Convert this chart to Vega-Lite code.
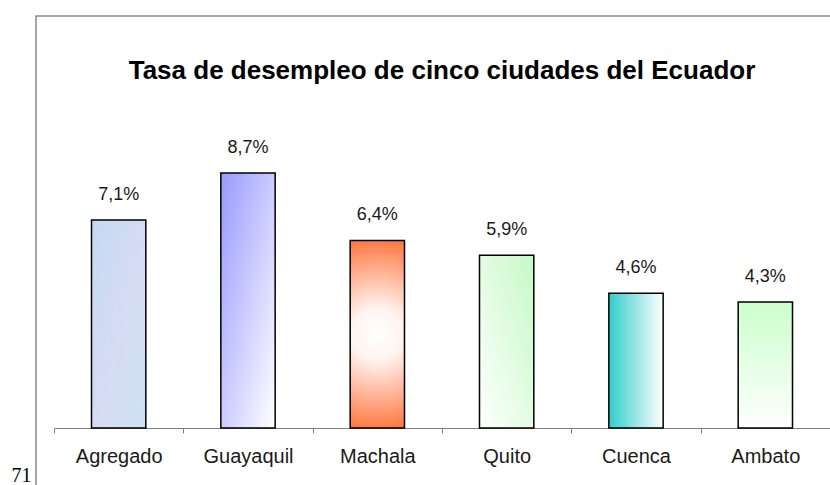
{
  "$schema": "https://vega.github.io/schema/vega-lite/v6.json",
  "width": 800,
  "height": 475,
  "autosize": {"type": "none"},
  "padding": {"left": 36, "top": 16, "right": -6, "bottom": -6},
  "background": "white",
  "config": {
    "locale": {"number": {"decimal": ",", "thousands": ".", "grouping": [3], "currency": ["", " €"]}},
    "view": {"stroke": "#8a8a8a", "strokeWidth": 1.5},
    "font": "Liberation Sans"
  },
  "title": {
    "text": "Tasa de desempleo de cinco ciudades del Ecuador",
    "font": "Liberation Sans",
    "fontSize": 26,
    "fontWeight": "bold",
    "color": "black",
    "anchor": "middle",
    "baseline": "middle",
    "offset": -81,
    "dx": 6
  },
  "data": {
    "values": [
      {"ciudad": "Agregado", "tasa": 0.071},
      {"ciudad": "Guayaquil", "tasa": 0.087},
      {"ciudad": "Machala", "tasa": 0.064},
      {"ciudad": "Quito", "tasa": 0.059},
      {"ciudad": "Cuenca", "tasa": 0.046},
      {"ciudad": "Ambato", "tasa": 0.043}
    ]
  },
  "encoding": {
    "x": {
      "field": "ciudad",
      "type": "nominal",
      "sort": null,
      "scale": {"range": [18, 794], "paddingInner": 0, "paddingOuter": 0},
      "axis": {
        "title": null,
        "offset": -63,
        "tickBand": "extent",
        "tickSize": 5,
        "tickColor": "#808080",
        "domainColor": "#808080",
        "labelAngle": 0,
        "labelFontSize": 20,
        "labelPadding": 13,
        "labelColor": "#1a1a1a",
        "labelFont": "Liberation Sans",
        "grid": false
      }
    },
    "y": {
      "field": "tasa",
      "type": "quantitative",
      "scale": {"domain": [0, 0.1], "range": [412, 119], "nice": false, "zero": true},
      "axis": {
        "title": "71",
        "domain": false,
        "ticks": false,
        "labels": false,
        "grid": false,
        "titleAngle": 0,
        "titleX": -15,
        "titleY": 459,
        "titleFont": "Liberation Serif",
        "titleFontSize": 20,
        "titleFontWeight": "normal",
        "titleAlign": "center",
        "titleBaseline": "middle",
        "titleColor": "black"
      }
    }
  },
  "layer": [
    {
      "transform": [{"filter": "datum.ciudad === 'Agregado'"}],
      "mark": {"type": "bar", "width": {"band": 0.42}, "stroke": "black", "strokeWidth": 1.5,
        "fill": {"gradient": "linear", "x1": 0, "y1": 0, "x2": 1, "y2": 1,
          "stops": [{"offset": 0, "color": "#c4daf2"}, {"offset": 0.5, "color": "#d6dbf4"}, {"offset": 1, "color": "#cde2f4"}]}}
    },
    {
      "transform": [{"filter": "datum.ciudad === 'Guayaquil'"}],
      "mark": {"type": "bar", "width": {"band": 0.42}, "stroke": "black", "strokeWidth": 1.5,
        "fill": {"gradient": "linear", "x1": 0, "y1": 0, "x2": 1, "y2": 1,
          "stops": [{"offset": 0, "color": "#9999ff"}, {"offset": 1, "color": "#ffffff"}]}}
    },
    {
      "transform": [{"filter": "datum.ciudad === 'Machala'"}],
      "mark": {"type": "bar", "width": {"band": 0.42}, "stroke": "black", "strokeWidth": 1.5,
        "fill": {"gradient": "radial", "x1": 0.5, "y1": 0.5, "r1": 0, "x2": 0.5, "y2": 0.5, "r2": 0.55,
          "stops": [{"offset": 0, "color": "#ffffff"}, {"offset": 0.25, "color": "#fff4f0"}, {"offset": 1, "color": "#ff6a2e"}]}}
    },
    {
      "transform": [{"filter": "datum.ciudad === 'Quito'"}],
      "mark": {"type": "bar", "width": {"band": 0.42}, "stroke": "black", "strokeWidth": 1.5,
        "fill": {"gradient": "linear", "x1": 1, "y1": 0, "x2": 0, "y2": 1,
          "stops": [{"offset": 0, "color": "#c6f9c6"}, {"offset": 1, "color": "#ffffff"}]}}
    },
    {
      "transform": [{"filter": "datum.ciudad === 'Cuenca'"}],
      "mark": {"type": "bar", "width": {"band": 0.42}, "stroke": "black", "strokeWidth": 1.5,
        "fill": {"gradient": "linear", "x1": 0, "y1": 0, "x2": 1, "y2": 0,
          "stops": [{"offset": 0, "color": "#33cccc"}, {"offset": 1, "color": "#ffffff"}]}}
    },
    {
      "transform": [{"filter": "datum.ciudad === 'Ambato'"}],
      "mark": {"type": "bar", "width": {"band": 0.42}, "stroke": "black", "strokeWidth": 1.5,
        "fill": {"gradient": "linear", "x1": 0, "y1": 0, "x2": 0, "y2": 1,
          "stops": [{"offset": 0, "color": "#ccffcc"}, {"offset": 1, "color": "#ffffff"}]}}
    },
    {
      "mark": {"type": "text", "dy": -25, "fontSize": 18, "color": "#1a1a1a", "font": "Liberation Sans"},
      "encoding": {"text": {"field": "tasa", "type": "quantitative", "format": ".1%"}}
    }
  ]
}
